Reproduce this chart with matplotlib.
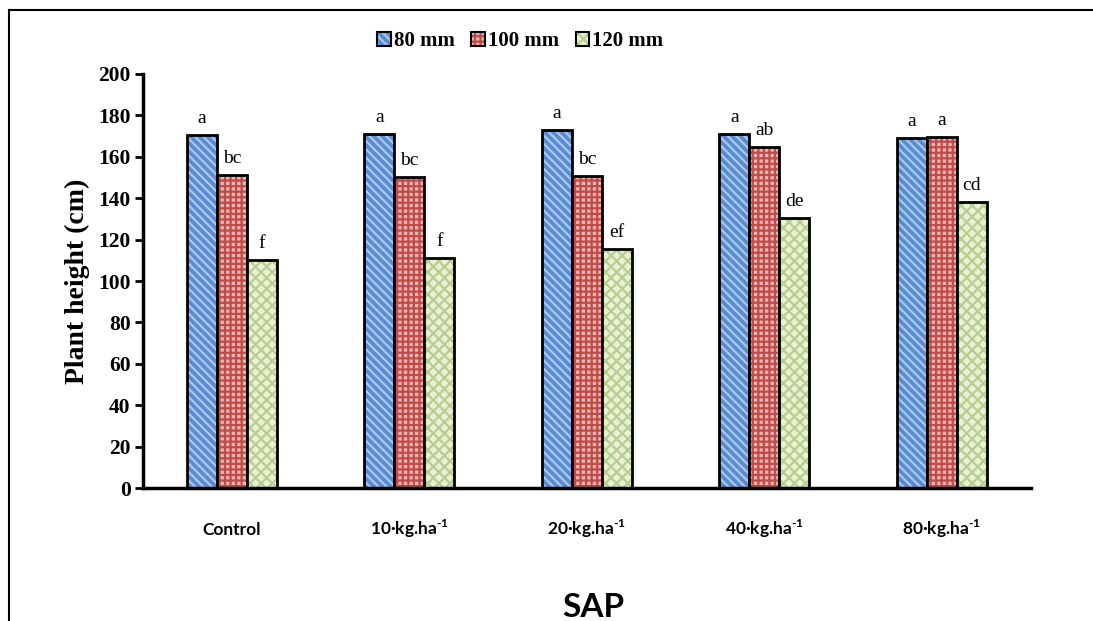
import numpy as np
import matplotlib.pyplot as plt
from matplotlib.patches import Patch
from matplotlib.lines import Line2D

plt.rcParams['hatch.linewidth'] = 1.6
plt.rcParams['mathtext.fontset'] = 'custom'
plt.rcParams['mathtext.rm'] = 'Lato:bold'
plt.rcParams['mathtext.bf'] = 'Lato:bold'

groups = ['Control', r'10·kg.ha$^{\text{-1}}$', r'20·kg.ha$^{\text{-1}}$',
          r'40·kg.ha$^{\text{-1}}$', r'80·kg.ha$^{\text{-1}}$']
series = ['80 mm', '100 mm', '120 mm']
h80 = [170.5, 171, 173, 171, 169]
h100 = [151, 150, 150.5, 164.5, 169.5]
h120 = [110, 111, 115.5, 130.5, 138]
let80 = ['a', 'a', 'a', 'a', 'a']
let100 = ['bc', 'bc', 'bc', 'ab', 'a']
let120 = ['f', 'f', 'ef', 'de', 'cd']

faces = ['#5a8bd0', '#eeb4b4', '#eaf1d2']
hatchcols = ['#a9c8ee', '#c04c4a', '#b9cc92']
hatches = ['\\\\\\\\', '+++', 'xxx']

fig = plt.figure(figsize=(10.93, 6.21), dpi=100)
ax = fig.add_axes([0.131, 0.214, 0.812, 0.667])

x = np.arange(len(groups))
w = 0.169
handles = []
for i, (vals, lets) in enumerate(zip([h80, h100, h120], [let80, let100, let120])):
    xs = x + (i - 1) * w
    ax.bar(xs, vals, w, color=faces[i], edgecolor=hatchcols[i], hatch=hatches[i], linewidth=0)
    ax.bar(xs, vals, w, fill=False, edgecolor='black', linewidth=2)
    for xi, v, t in zip(xs, vals, lets):
        ax.text(xi, v + 4, t, ha='center', va='bottom', fontsize=14, family='Liberation Serif')
    handles.append((Patch(facecolor=faces[i], edgecolor=hatchcols[i], hatch=hatches[i], linewidth=0),
                    Patch(fill=False, edgecolor='black', linewidth=1.5)))

ax.set_xlim(-0.5, 4.5)
ax.set_ylim(0, 200)
ax.set_yticks(np.arange(0, 201, 20))
ax.set_xticks(x)
ax.set_xticklabels(groups, fontsize=12.5, fontweight='bold', family='Lato', va='baseline')
for lab in ax.get_yticklabels():
    lab.set_family('Liberation Serif')
    lab.set_fontweight('bold')
    lab.set_fontsize(15.5)
ax.tick_params(axis='x', length=0, pad=34)
ax.tick_params(axis='y', length=6, width=2, pad=3)
ax.spines['top'].set_visible(False)
ax.spines['right'].set_visible(False)
ax.spines['left'].set_linewidth(2.5)
ax.spines['bottom'].set_linewidth(2.5)
ax.set_ylabel('Plant height (cm)', fontsize=20, fontweight='bold', family='Liberation Serif', labelpad=6)

fig.legend(handles, series, loc='center', bbox_to_anchor=(0.476, 0.934), ncol=3, frameon=False,
           prop={'family': 'Liberation Serif', 'weight': 'bold', 'size': 15},
           handlelength=0.65, handleheight=0.65, handletextpad=0.15, columnspacing=0.8)

fig.text(0.5426, 0.0225, 'SAP', ha='center', va='center', fontsize=24, fontweight='bold', family='Lato')

fig.add_artist(Line2D([0.0082, 0.0082], [0, 0.984], color='black', linewidth=1.5, transform=fig.transFigure))
fig.add_artist(Line2D([0.0082, 1], [0.984, 0.984], color='black', linewidth=1.5, transform=fig.transFigure))

plt.savefig('out.png', dpi=100)
